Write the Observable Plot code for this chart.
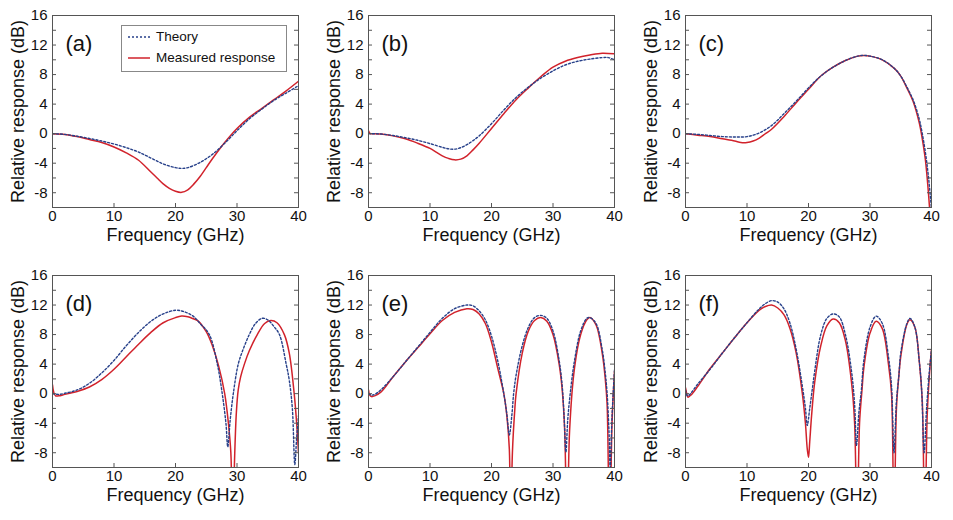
<!DOCTYPE html>
<html><head><meta charset="utf-8">
<script src="https://cdn.jsdelivr.net/npm/d3@7"></script>
<script src="https://cdn.jsdelivr.net/npm/@observablehq/plot@0.6"></script>
<style>
body{margin:0;background:#fff;font-family:Arial,"Liberation Sans",sans-serif;}
#wrap{position:relative;width:953px;height:520px;overflow:hidden;background:#fff;}
.panel{position:absolute;overflow:visible;}
#legend{position:absolute;left:121px;top:25px;}
</style></head><body><div id="wrap"></div>
<script>
// ---- data (GHz, dB) ----
const panelLabels = ["(a)","(b)","(c)","(d)","(e)","(f)"];
const xTickValues = [0,10,20,30,40];
const yTickValues = [-8,-4,0,4,8,12,16];
const yMinorValues = [-10,-8,-6,-4,-2,0,2,4,6,8,10,12,14,16];
const xMinorValues = [10,20,30];

const ftA = [0,2,4,6,8,10,12,14,16,18,20,21,22,24,26,28,30,32,34,36,38,40];
const vtA = [0,-0.1,-0.35,-0.65,-1.0,-1.4,-1.9,-2.5,-3.3,-4.1,-4.6,-4.7,-4.6,-3.9,-2.8,-1.3,0.4,2.0,3.3,4.5,5.5,6.5];
const fmA = [0,2,4,6,8,10,12,14,16,17,18,19,20,21,22,23,24,25,26,28,30,32,34,36,38,40];
const vmA = [0,-0.1,-0.4,-0.8,-1.2,-1.8,-2.6,-3.6,-5.2,-6.0,-6.8,-7.4,-7.8,-7.95,-7.6,-6.8,-5.8,-4.6,-3.4,-1.2,0.7,2.2,3.4,4.6,5.8,7.1];

const ftB = [0,2,4,6,8,10,12,13,14,15,16,17,18,20,22,24,26,28,30,32,34,36,38,39,40];
const vtB = [0,-0.05,-0.25,-0.55,-0.9,-1.35,-1.85,-2.05,-2.1,-1.9,-1.5,-0.95,-0.3,1.35,3.2,4.9,6.3,7.5,8.5,9.3,9.8,10.1,10.3,10.3,10.0];
const fmB = [0,0.3,1,2,4,6,8,10,11,12,13,14,15,16,17,18,20,22,24,26,28,30,32,34,36,38,40];
const vmB = [0.4,0,0,-0.05,-0.3,-0.7,-1.3,-2.0,-2.5,-3.0,-3.35,-3.55,-3.45,-3.0,-2.2,-1.3,0.7,2.7,4.6,6.2,7.7,9.0,9.8,10.3,10.65,10.9,10.8];

const ftC = [0,2,4,6,8,10,12,14,16,18,20,22,24,26,28,29,30,32,34,35,36,37,38,38.5,39,39.5,40];
const vtC = [0,-0.1,-0.25,-0.4,-0.45,-0.4,0.1,1.1,2.7,4.4,6.2,7.8,9.0,9.9,10.5,10.6,10.5,10.0,8.8,7.8,6.3,4.6,2.0,0,-2.5,-5.8,-10.2];
const fmC = [0,2,4,6,8,9,10,11,12,13,14,16,18,20,22,24,26,28,29,30,32,34,35,36,37,38,38.5,39,39.5,40];
const vmC = [0,-0.2,-0.4,-0.7,-1.0,-1.2,-1.2,-1.0,-0.6,0.0,0.6,2.3,4.2,6.0,7.8,9.0,9.9,10.5,10.6,10.5,10.0,8.8,7.8,6.2,4.4,1.5,-0.7,-3.5,-8,-14];

const ftD = [0,1,2,4,6,8,10,12,14,16,18,20,21,22,23,24,25.5,26.8,27.6,28.2,28.5,28.9,29.4,30.2,31,32,33,34.1,35,36,36.9,38,38.5,39,39.4,39.7,40];
const vtD = [0,-0.1,0.05,0.5,1.4,2.8,4.5,6.5,8.3,9.8,10.8,11.3,11.2,10.9,10.4,9.5,8,4,0,-4,-7.2,-3.5,0,4,6,8,9.5,10.2,10,9.1,8,4,1.8,-2,-9.6,-6,-3];
const fmD = [0,0.2,0.5,1,2,3,4,6,8,10,12,14,16,18,20,21,22,23,23.6,25,26,27,28,28.6,29.0,29.3,29.6,29.9,30.2,30.6,31.2,32,33.3,34.5,35.5,36.5,37.7,38.5,39.3,39.7,40];
const vmD = [1.2,0.2,-0.3,-0.3,-0.1,0.1,0.3,0.9,1.9,3.3,5.0,6.7,8.3,9.6,10.3,10.5,10.4,10.1,9.9,8.4,6.5,3.8,0,-4,-8,-20,-9,-2.5,0.5,2.3,4,5.8,8,9.5,9.9,9.6,8,5.5,0,-4,-8];

const ftE = [0,0.5,1,2,4,6,8,10,12,14,16,17,18,19,20,21,22,22.5,22.9,23.3,23.6,24,25,26,27,28,29,30,31,31.5,31.8,32.1,32.4,32.8,33.5,34.5,35.5,36,37,38,38.5,38.8,39.1,39.3,39.6,40];
const vtE = [0,-0.2,-0.1,0.5,2.3,4.3,6.3,8.3,10.2,11.5,12.0,11.9,11.2,10.0,7.8,4.5,0,-2.8,-5.6,-3.0,0,2.5,6.5,9.0,10.3,10.6,10.2,8.5,4.5,1.0,-3.0,-7.9,-3.5,0,4.5,8.5,10.2,10.3,9.5,6.0,2.8,0,-5,-10,-3,3.2];
const fmE = [0,0.2,0.5,1,2,4,6,8,10,12,14,16,17,18,19,20,21,22,22.5,22.9,23.1,23.4,23.8,24,25,26,27,28,29,30,31,31.5,31.9,32.3,32.7,33.5,34.5,35.5,36,37,38,38.5,38.8,39.2,39.6,40];
const vmE = [0.5,-0.2,-0.4,-0.3,0.2,2.3,4.3,6.2,8.1,9.9,11.0,11.5,11.4,10.8,9.5,7.0,3.5,0,-3,-7.5,-20,-8,-2,0,5.5,8.5,9.9,10.3,9.8,8.0,4.0,0.5,-5,-20,-5,3.5,8,10.0,10.3,9.3,5.5,2,-1.5,-20,-4,3];

const ftF = [0,0.3,0.7,1,2,4,6,8,10,12,13,14,15,16,17,18,19,19.5,19.8,20.2,20.6,21,22,23,24,25,26,27,27.5,27.8,28.2,28.6,29,30,31,32,33,33.5,33.9,34.3,34.7,35,36,36.5,37.3,38,38.4,38.8,39.2,39.6,40];
const vtF = [0.5,-0.3,-0.1,0.2,1.3,3.3,5.5,7.6,9.6,11.5,12.2,12.6,12.4,11.5,9.5,6,1,-2,-4.3,-2,0.5,3,8,10.2,10.8,10.4,8,3,-1.5,-7,-2.5,0.5,4.5,9,10.5,9.5,5,1,-8,-1,2.5,5.5,9.5,10.2,9,4.5,0.5,-8,-2,2.5,6];
const fmF = [0,0.2,0.4,0.7,1,2,4,6,8,10,12,13,14,15,16,17,18,19,19.5,19.8,20.0,20.2,20.5,21,22,23,24,25,26,27,27.5,27.9,28.3,28.7,29,30,31,32,33,33.5,33.9,34.3,34.7,35,36,36.5,37.3,38,38.5,38.9,39.3,39.7,40];
const vmF = [0.8,0,-0.5,-0.3,-0.1,1.0,3.4,5.5,7.6,9.6,11.3,11.8,12.0,11.6,10.7,8.8,5.5,0,-4,-7.5,-8.6,-6.5,-3,1.5,6.5,9.2,10.1,9.6,7.2,1.5,-4,-20,-4,0.5,3.5,8.2,9.8,8.8,4.0,0,-20,-2,2.5,5,9.4,10.0,9,4.5,-1,-20,-3,3,6];

const theorySeries = [[ftA,vtA],[ftB,vtB],[ftC,vtC],[ftD,vtD],[ftE,vtE],[ftF,vtF]];
const measSeries = [[fmA,vmA],[fmB,vmB],[fmC,vmC],[fmD,vmD],[fmE,vmE],[fmF,vmF]];

const theoryColor = "#27408a";
const measColor = "#d1222b";
const frameColor = "#555";

function toRows(pair){ return pair[0].map((f,i)=>({f, v: pair[1][i]})); }

function makePanel(i){
  const T = toRows(theorySeries[i]);
  const M = toRows(measSeries[i]);
  const W = 317, H = 260, mL = 52, mR = 19, mT = 15, mB = 53;
  const innerW = W - mL - mR, innerH = H - mT - mB;
  return Plot.plot({
    width: W, height: H, marginLeft: mL, marginRight: mR, marginTop: mT, marginBottom: mB,
    style: {fontFamily: "Arial, 'Liberation Sans', sans-serif", fontSize: "15px", color: "#111", background: "transparent", overflow: "visible"},
    x: {domain: [0,40], axis: null},
    y: {domain: [-10,16], axis: null},
    marks: [
      Plot.line(M, {x: "f", y: "v", stroke: measColor, strokeWidth: 1.5, curve: "catmull-rom", clip: true}),
      Plot.line(T, {x: "f", y: "v", stroke: theoryColor, strokeWidth: 1.4, strokeDasharray: "2,2", curve: "catmull-rom", clip: true}),
      Plot.frame({stroke: frameColor, strokeWidth: 1}),
      Plot.tickY(yMinorValues, {y: d => d, stroke: frameColor, insetRight: innerW - 4}),
      Plot.tickY(yMinorValues, {y: d => d, stroke: frameColor, insetLeft: innerW - 4}),
      Plot.tickX(xMinorValues, {x: d => d, stroke: frameColor, insetTop: innerH - 4}),
      Plot.axisX({ticks: xTickValues, tickSize: 0, tickPadding: 3, tickFormat: d => String(d), label: null, fontSize: 15}),
      Plot.axisY({ticks: yTickValues, tickSize: 0, tickPadding: 5, tickFormat: d => String(d), label: null, fontSize: 15}),
      Plot.text(["Frequency (GHz)"], {text: d => d, frameAnchor: "bottom", textAnchor: "middle", dy: 33, fontSize: 18, fill: "#111"}),
      Plot.text(["Relative response (dB)"], {text: d => d, frameAnchor: "left", textAnchor: "middle", dx: -34, rotate: -90, fontSize: 18, fill: "#111"}),
      Plot.text([panelLabels[i]], {text: d => d, frameAnchor: "top-left", dx: 13, dy: 20, textAnchor: "start", fontSize: 22, fill: "#111"})
    ]
  });
}

const offsets = [[0,0],[316,0],[633,0],[0,260],[316,260],[633,260]];
const wrap = document.getElementById("wrap");
offsets.forEach((o,i) => {
  const el = makePanel(i);
  el.classList.add("panel");
  el.style.left = o[0] + "px";
  el.style.top = o[1] + "px";
  wrap.appendChild(el);
});

// legend inside panel (a)
const ns = "http://www.w3.org/2000/svg";
const lg = document.createElementNS(ns, "svg");
lg.setAttribute("id","legend"); lg.setAttribute("width","166"); lg.setAttribute("height","47");
lg.innerHTML = `
 <rect x="0.5" y="0.5" width="165" height="46" fill="#fff" stroke="#888"/>
 <line x1="7" y1="12" x2="29" y2="12" stroke="${theoryColor}" stroke-width="1.4" stroke-dasharray="2,2"/>
 <text x="35" y="12" dominant-baseline="middle" font-size="13.5" font-family="Arial, 'Liberation Sans', sans-serif" fill="#111">Theory</text>
 <line x1="7" y1="33" x2="29" y2="33" stroke="${measColor}" stroke-width="1.5"/>
 <text x="35" y="33" dominant-baseline="middle" font-size="13.5" font-family="Arial, 'Liberation Sans', sans-serif" fill="#111">Measured response</text>`;
wrap.appendChild(lg);
</script></body></html>
